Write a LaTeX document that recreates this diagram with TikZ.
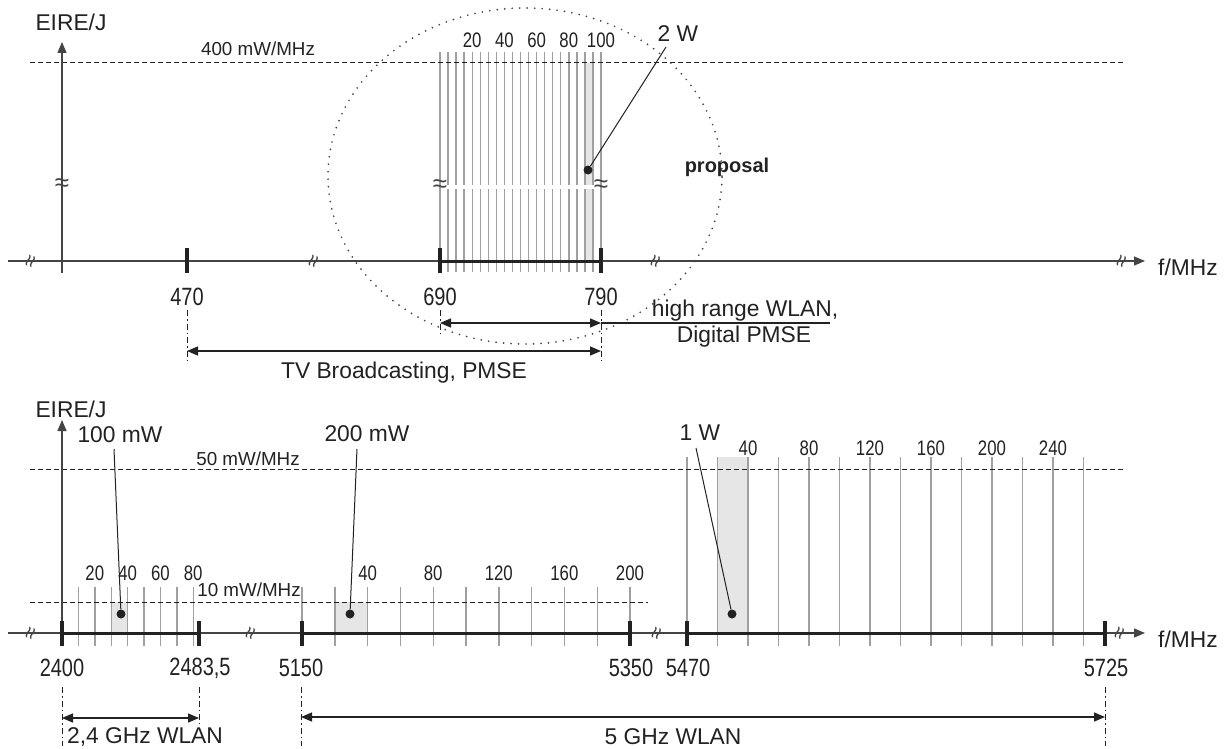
\documentclass[tikz,border=0pt]{standalone}
\usepackage{fontspec}
\setmainfont{Liberation Sans}
\newfontfamily\numfont[FakeStretch=0.8]{Liberation Sans}
\usetikzlibrary{arrows.meta}
\definecolor{ink}{HTML}{222222}
\definecolor{axc}{HTML}{444444}
\definecolor{chc}{HTML}{A0A0A0}
\definecolor{lightshade}{HTML}{E6E6E6}
\tikzset{
  axisline/.style={line width=1.3bp, draw=axc},
  axarrow/.style={axisline, -{Triangle[length=11bp,width=9bp]}},
  bandline/.style={line width=3bp, draw=ink},
  tickmark/.style={line width=3.5bp, draw=ink},
  chan/.style={line width=1.4bp, draw=chc},
  thr/.style={line width=1bp, draw=ink, dash pattern=on 5bp off 3bp},
  dimline/.style={line width=1bp, draw=ink, dash pattern=on 6bp off 3bp on 1.5bp off 3bp},
  dimarrow/.style={line width=1.3bp, draw=ink, {Triangle[length=11bp,width=9bp]}-{Triangle[length=11bp,width=9bp]}},
  txt/.style={font=\fontsize{22.8bp}{26bp}\selectfont, inner sep=0, text=ink},
  numlab/.style={font=\numfont\fontsize{25bp}{26bp}\selectfont, inner sep=0, text=ink},
  chanlab/.style={font=\numfont\fontsize{21bp}{22bp}\selectfont, inner sep=0, text=ink},
  thrlab/.style={font=\fontsize{18.8bp}{22bp}\selectfont, inner sep=0, text=ink},
  brk/.style={font=\fontsize{22bp}{22bp}\selectfont, rotate=70, inner sep=0, text=axc},
  brkh/.style={font=\fontsize{26bp}{26bp}\selectfont, inner sep=0, text=axc},
  blackdot/.style={circle, fill=ink, inner sep=0, minimum size=9bp},
  leader/.style={line width=1bp, draw=ink},
}
\begin{document}
\begin{tikzpicture}[x=1bp,y=-1bp]
\useasboundingbox[fill=white] (0,0) rectangle (1228,749);

% ================= TOP DIAGRAM =================
\fill[lightshade] (585.7,63) rectangle (593.8,261);
\foreach \k in {0,...,20} \draw[chan] ({440+8.05*\k},52) -- ({440+8.05*\k},272);
\draw[white, line width=4bp] (444,187) -- (598,187);
\node[brkh] (bkl) at (440,186) {≈};
\node[brkh] (bkr) at (601,186) {≈};
\draw[thr] (30,63) -- (1125,63);
\node[thrlab] (t400) at (258,49) {400 mW/MHz};
\coordinate (yb1) at (62,273);
\coordinate (yt1) at (62,42);
\draw[axarrow] (yb1) -- (yt1);
\node[txt] (eire1) at (71,22) {EIRE/J};
\node[brkh] (bky1) at (62,185) {≈};
\coordinate (xl1) at (8,261);
\coordinate (xr1) at (1145,261);
\draw[axarrow] (xl1) -- (xr1);
\node[txt] (f1) at (1188,267) {f/MHz};
\foreach \xx/\nm in {32/a,315/b,657/c,1123/d} \node[brk] (bx1\nm) at (\xx,262) {≈};
\draw[bandline] (440,261) -- (601,261);
\foreach \xx in {187,440,601} \draw[tickmark] (\xx,248) -- (\xx,273);
\node[numlab] (n470) at (187,297) {470};
\node[numlab] (n690) at (440,297) {690};
\node[numlab] (n790) at (601,297) {790};
\foreach \k/\lab in {4/20,8/40,12/60,16/80,20/100}
  \node[chanlab] (tc\lab) at ({440+8.05*\k},40) {\lab};
\node[blackdot] (d2w) at (588,170) {};
\coordinate (l2w) at (666,47);
\draw[leader] (d2w) -- (l2w);
\node[txt] (w2) at (678,34) {2 W};
\node[font=\bfseries\fontsize{20bp}{22bp}\selectfont, inner sep=0, text=ink] (prop) at (727,167) {proposal};
\draw[line width=1.9bp, draw=axc, dash pattern=on 0bp off 7.5bp, line cap=round] (525,176) ellipse [x radius=197bp, y radius=168bp];
\draw[dimline] (187,310) -- (187,360);
\draw[dimline] (440,310) -- (440,334);
\draw[dimline] (601,310) -- (601,360);
\coordinate (h690) at (440,323);
\coordinate (h790) at (601,323);
\coordinate (hend) at (830,323);
\draw[dimarrow] (h690) -- (h790);
\draw[line width=1.3bp, draw=ink] (h790) -- (hend);
\node[txt] (hr1) at (745,311) {high range WLAN,};
\node[txt] (hr2) at (744,337) {Digital PMSE};
\coordinate (tv470) at (187,351);
\coordinate (tv790) at (601,351);
\draw[dimarrow] (tv470) -- (tv790);
\node[txt] (tvb) at (404,373) {TV Broadcasting, PMSE};

% ================= BOTTOM DIAGRAM =================
\fill[lightshade] (111.2,602) rectangle (127.6,633);
\fill[lightshade] (334.8,602) rectangle (367.6,633);
\fill[lightshade] (717.5,457) rectangle (748,633);
\foreach \k in {1,...,8} \draw[chan] ({62+16.4*\k},587) -- ({62+16.4*\k},646);
\foreach \k in {0,...,10} \draw[chan] ({302+32.8*\k},587) -- ({302+32.8*\k},646);
\foreach \k in {0,...,13} \draw[chan] ({687+30.5*\k},457) -- ({687+30.5*\k},646);
\draw[thr] (30,469) -- (1124,469);
\node[thrlab] (t50) at (248,459) {50 mW/MHz};
\draw[thr] (30,602) -- (648,602);
\node[thrlab] (t10) at (249,590) {10 mW/MHz};
\coordinate (yb2) at (62,646);
\coordinate (yt2) at (62,420);
\draw[axarrow] (yb2) -- (yt2);
\node[txt] (eire2) at (71,409) {EIRE/J};
\coordinate (xl2) at (8,633);
\coordinate (xr2) at (1145,633);
\draw[axarrow] (xl2) -- (xr2);
\node[txt] (f2) at (1188,639) {f/MHz};
\foreach \xx/\nm in {32/a,252/b,658/c,1121/d} \node[brk] (bx2\nm) at (\xx,634) {≈};
\draw[bandline] (62,633) -- (199,633);
\draw[bandline] (302,633) -- (630,633);
\draw[bandline] (687,633) -- (1105,633);
\foreach \xx in {62,199,302,630,687,1105} \draw[tickmark] (\xx,621) -- (\xx,646);
\node[numlab] (n2400) at (62,668) {2400};
\node[numlab] (n2483) at (200,668) {2483,5};
\node[numlab] (n5150) at (301,668) {5150};
\node[numlab] (n5350) at (631,668) {5350};
\node[numlab] (n5470) at (688,668) {5470};
\node[numlab] (n5725) at (1106,668) {5725};
\foreach \k/\lab in {2/20,4/40,6/60,8/80}
  \node[chanlab] (ca\lab) at ({62+16.4*\k},573) {\lab};
\foreach \k/\lab in {2/40,4/80,6/120,8/160,10/200}
  \node[chanlab] (cb\lab) at ({302+32.8*\k},573) {\lab};
\foreach \k/\lab in {2/40,4/80,6/120,8/160,10/200,12/240}
  \node[chanlab] (cc\lab) at ({687+30.5*\k},448) {\lab};
\node[blackdot] (d100) at (121,614) {};
\coordinate (l100) at (114,449);
\draw[leader] (d100) -- (l100);
\node[txt] (w100) at (120,435) {100 mW};
\node[blackdot] (d200) at (350,614) {};
\coordinate (l200) at (357,449);
\draw[leader] (d200) -- (l200);
\node[txt] (w200) at (367,434) {200 mW};
\node[blackdot] (d1w) at (732,614) {};
\coordinate (l1w) at (696,448);
\draw[leader] (d1w) -- (l1w);
\node[txt] (w1) at (700,433) {1 W};
\draw[dimline] (62,687) -- (62,746);
\draw[dimline] (199,687) -- (199,724);
\draw[dimline] (301,687) -- (301,746);
\draw[dimline] (1105,687) -- (1105,746);
\coordinate (g24a) at (62,718);
\coordinate (g24b) at (199,718);
\draw[dimarrow] (g24a) -- (g24b);
\node[txt] (w24) at (145,737) {2,4 GHz WLAN};
\coordinate (g5a) at (301,717);
\coordinate (g5b) at (1105,717);
\draw[dimarrow] (g5a) -- (g5b);
\node[txt] (w5) at (673,737) {5 GHz WLAN};
\end{tikzpicture}
\end{document}
